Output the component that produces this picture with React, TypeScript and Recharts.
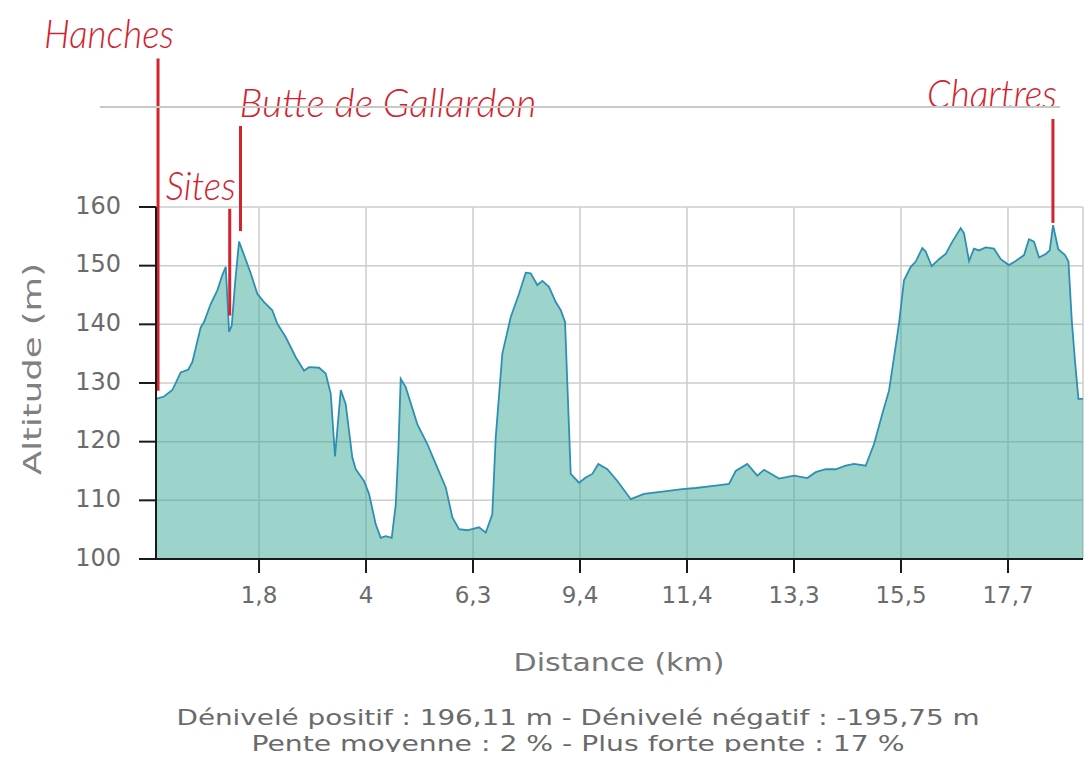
import { AreaChart, Area, XAxis, YAxis, CartesianGrid, ReferenceLine } from "recharts";

// position along the axis, in label steps (tick n sits at n)
const positions = [
  0.037, 0.112, 0.19, 0.268, 0.339, 0.377, 0.455, 0.486, 0.549, 0.61, 0.657, 0.689, 0.72, 0.745,
  0.776, 0.813, 0.86, 0.922, 0.984, 1.047, 1.124, 1.171, 1.25, 1.343, 1.421, 1.467, 1.561, 1.623,
  1.67, 1.71, 1.764, 1.81, 1.872, 1.904, 1.981, 2.028, 2.091, 2.137, 2.184, 2.24, 2.278, 2.302,
  2.324, 2.371, 2.479, 2.573, 2.651, 2.745, 2.807, 2.869, 2.947, 3.056, 3.119, 3.18, 3.212, 3.274,
  3.352, 3.43, 3.493, 3.539, 3.601, 3.648, 3.71, 3.773, 3.82, 3.86, 3.913, 3.991, 4.053, 4.115,
  4.171, 4.255, 4.349, 4.474, 4.598, 4.769, 4.956, 5.081, 5.268, 5.393, 5.455, 5.563, 5.657, 5.72,
  5.86, 6.0, 6.124, 6.203, 6.296, 6.39, 6.483, 6.561, 6.67, 6.748, 6.825, 6.888, 6.935, 6.981,
  7.028, 7.091, 7.138, 7.199, 7.231, 7.287, 7.355, 7.418, 7.48, 7.558, 7.589, 7.636, 7.682, 7.729,
  7.791, 7.869, 7.932, 8.009, 8.072, 8.15, 8.196, 8.243, 8.29, 8.353, 8.39, 8.421, 8.47, 8.533,
  8.565, 8.596, 8.626, 8.658, 8.701,
];

const altitudes = [
  127.3, 127.7, 128.8, 131.8, 132.3, 133.6, 139.5, 140.4, 143.5, 145.8, 148.4, 149.8, 138.7, 139.8,
  147, 154.1, 151.8, 148.7, 145.2, 143.8, 142.4, 140.1, 137.8, 134.4, 132.1, 132.7, 132.6, 131.6,
  128.2, 117.5, 128.8, 126.4, 117.3, 115.3, 113.3, 111.1, 105.9, 103.6, 103.9, 103.6, 109.3, 118.5,
  130.7, 129.3, 123, 119.6, 116.2, 112.2, 107.1, 105.1, 104.9, 105.4, 104.5, 107.6, 120.7, 135,
  141.2, 145.2, 148.8, 148.7, 146.7, 147.4, 146.4, 143.8, 142.4, 140.4, 114.5, 113, 113.9, 114.5,
  116.2, 115.3, 113.3, 110.2, 111.1, 111.5, 111.9, 112.1, 112.5, 112.8, 115, 116.2, 114.2, 115.2,
  113.7, 114.2, 113.8, 114.8, 115.3, 115.3, 115.9, 116.2, 115.9, 119.6, 124.7, 128.7, 134.4, 140.1,
  147.5, 149.8, 150.7, 153, 152.4, 149.9, 151.1, 152, 154.1, 156.4, 155.5, 150.8, 152.9, 152.6,
  153.1, 152.9, 151.1, 150.1, 150.8, 151.8, 154.5, 154.1, 151.4, 152, 152.6, 156.9, 152.8, 151.8,
  150.7, 140.7, 133.8, 127.3, 127.3,
];

const distanceTicks = [1, 2, 3, 4, 5, 6, 7, 8];
const distanceLabels = ["1,8", "4", "6,3", "9,4", "11,4", "13,3", "15,5", "17,7"];
const altitudeTicks = [100, 110, 120, 130, 140, 150, 160];

// place names marked above the profile
const placeNames = ["Hanches", "Sites", "Butte de Gallardon", "Chartres"];
const placePositions = [0.056, 0.726, 0.827, 8.42];
const placeTop = [185.3, 159.7, 173.8, 175];
const placeBottom = [128.7, 141.5, 155.9, 157.3];

const data = positions.map((u, i) => ({ u, alt: altitudes[i] }));

const RED = "#d3232e";
const labelSetup = [
  { dx: 16, dy: -11, anchor: "end", w: 130 },
  { dx: 6, dy: -9, anchor: "end", w: 70 },
  { dx: -1, dy: -9, anchor: "start", w: 297 },
  { dx: 4, dy: -11, anchor: "end", w: 130 },
];

function PlaceLabel({ viewBox, idx }: any) {
  const s = labelSetup[idx];
  return (
    <text
      x={viewBox.x + s.dx}
      y={viewBox.y + s.dy}
      textAnchor={s.anchor}
      fill={RED}
      fontFamily="Lato, 'Open Sans', sans-serif"
      fontStyle="italic"
      fontWeight={300}
      fontSize={39}
      textLength={s.w}
      lengthAdjust="spacingAndGlyphs"
    >
      {placeNames[idx]}
    </text>
  );
}

export default function App() {
  return (
    <div style={{ position: "absolute", left: 0, top: 0, width: 1091, height: 764, background: "#fff", overflow: "hidden" }}>
      <AreaChart
        width={1091}
        height={764}
        data={data}
        margin={{ top: 207, right: 8, bottom: 165, left: 0 }}
      >
        <CartesianGrid stroke="#cccccc" strokeWidth={1.5} />
        <XAxis
          dataKey="u"
          type="number"
          domain={[positions[0], positions[positions.length - 1]]}
          ticks={distanceTicks}
          tickFormatter={(v: number) => distanceLabels[v - 1]}
          height={40}
          tickSize={14}
          tickMargin={14}
          axisLine={{ stroke: "#1a1a1a", strokeWidth: 2 }}
          tickLine={{ stroke: "#1a1a1a", strokeWidth: 2 }}
          tick={{ fill: "#6b6b6b", fontSize: 23, fontFamily: "'DejaVu Sans', sans-serif" }}
        />
        <YAxis
          type="number"
          domain={[100, 160]}
          ticks={altitudeTicks}
          width={156}
          tickSize={17}
          tickMargin={18}
          axisLine={{ stroke: "#1a1a1a", strokeWidth: 2 }}
          tickLine={{ stroke: "#1a1a1a", strokeWidth: 2 }}
          tick={{ fill: "#6b6b6b", fontSize: 24, fontFamily: "'DejaVu Sans', sans-serif", dy: -2 }}
        />
        <Area
          type="linear"
          dataKey="alt"
          stroke="#2f8fb3"
          strokeWidth={1.8}
          fill="#3aa99a"
          fillOpacity={0.5}
          dot={false}
          activeDot={false}
          isAnimationActive={false}
        />
        {placeNames.map((name, i) => (
          <ReferenceLine
            key={name}
            ifOverflow="visible"
            segment={[
              { x: placePositions[i], y: placeTop[i] },
              { x: placePositions[i], y: placeBottom[i] },
            ]}
            stroke={RED}
            strokeWidth={3}
            label={(p: any) => <PlaceLabel viewBox={p.viewBox} idx={i} />}
          />
        ))}
      </AreaChart>
      <svg width={1091} height={764} style={{ position: "absolute", left: 0, top: 0, pointerEvents: "none" }}>
        <defs>
          <clipPath id="footclip">
            <rect x={0} y={0} width={1091} height={752} />
          </clipPath>
        </defs>
        <line x1={100} y1={107} x2={1060} y2={107} stroke="#c8c8c8" strokeWidth={2} />
        <text
          x={33}
          y={369}
          transform="rotate(-90 33 369)"
          textAnchor="middle"
          dominantBaseline="central"
          fill="#808080"
          fontSize={24}
          fontFamily="'DejaVu Sans', sans-serif"
          textLength={212}
          lengthAdjust="spacingAndGlyphs"
        >
          Altitude (m)
        </text>
        <text
          x={619}
          y={671}
          textAnchor="middle"
          fill="#777"
          fontSize={25}
          fontFamily="'DejaVu Sans Condensed', 'Liberation Sans', sans-serif"
          textLength={211}
          lengthAdjust="spacingAndGlyphs"
        >
          Distance (km)
        </text>
        <g clipPath="url(#footclip)" fill="#6a6a6a" fontSize={21} fontFamily="'DejaVu Sans Condensed', 'Liberation Sans', sans-serif">
          <text x={578} y={725} textAnchor="middle" textLength={803} lengthAdjust="spacingAndGlyphs">
            Dénivelé positif : 196,11 m - Dénivelé négatif : -195,75 m
          </text>
          <text x={578} y={751} textAnchor="middle" textLength={653} lengthAdjust="spacingAndGlyphs">
            Pente moyenne : 2 % - Plus forte pente : 17 %
          </text>
        </g>
      </svg>
    </div>
  );
}
